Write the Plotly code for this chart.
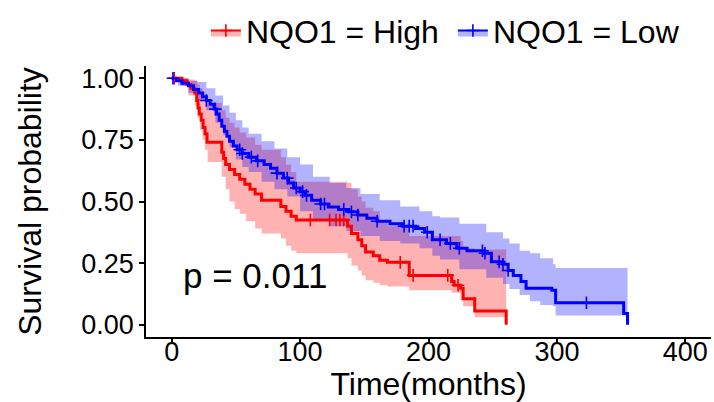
import plotly.graph_objects as go

# ---------------- data ----------------
high_t = [0, 8, 12, 15, 18, 19.5, 20.5, 21.5, 23, 24.5, 26, 27.5, 39, 40.5, 42, 45, 49, 53, 57, 61, 65, 70,
          85, 89, 93, 97, 137, 140, 145, 148, 151, 157, 162, 168, 185, 218, 220, 225, 227, 236, 260.5]
high_s = [1.0, 0.99, 0.975, 0.96, 0.94, 0.91, 0.88, 0.855, 0.83, 0.80, 0.775, 0.74, 0.70, 0.675, 0.65, 0.63,
          0.61, 0.59, 0.57, 0.55, 0.53, 0.505, 0.48, 0.46, 0.44, 0.425, 0.40, 0.37, 0.345, 0.32, 0.295, 0.28,
          0.262, 0.253, 0.20, 0.175, 0.16, 0.148, 0.105, 0.056, 0.0]
high_band_t = [0, 8, 13, 18, 20, 22, 24, 26, 28, 39, 42, 45, 49, 53, 58, 65, 70, 85, 89, 93, 97, 137, 140,
               145, 148, 151, 157, 162, 168, 185, 218, 225, 227, 236]
high_upper = [1.0, 1.0, 0.995, 0.99, 0.975, 0.96, 0.945, 0.93, 0.90, 0.87, 0.84, 0.82, 0.80, 0.78, 0.76,
              0.73, 0.71, 0.68, 0.65, 0.62, 0.58, 0.575, 0.55, 0.52, 0.50, 0.475, 0.46, 0.42, 0.40, 0.36,
              0.36, 0.34, 0.31, 0.305]
high_lower = [1.0, 0.97, 0.93, 0.89, 0.84, 0.79, 0.75, 0.71, 0.66, 0.60, 0.55, 0.50, 0.47, 0.45, 0.42,
              0.39, 0.37, 0.35, 0.32, 0.30, 0.29, 0.27, 0.24, 0.22, 0.20, 0.18, 0.17, 0.16, 0.155, 0.14,
              0.13, 0.10, 0.075, 0.03]
high_end = 260.5
high_cens = [2, 108, 123, 128, 131, 134, 178, 188, 215, 223]

low_t = [0, 3, 8, 13, 17, 21, 24, 27, 30, 33, 35, 37, 39, 41, 43, 45, 48, 51, 55, 60, 66, 72, 77, 82, 87,
         91, 95, 100, 104, 109, 116, 122, 130, 138, 145, 152, 160, 170, 180, 190, 197, 203, 214, 222, 230,
         243, 249, 258, 262, 266, 272, 276, 296, 299, 352, 355]
low_s = [1.0, 0.99, 0.98, 0.97, 0.955, 0.94, 0.925, 0.91, 0.895, 0.875, 0.855, 0.83, 0.805, 0.785, 0.765,
         0.745, 0.725, 0.71, 0.695, 0.68, 0.665, 0.65, 0.635, 0.615, 0.595, 0.575, 0.555, 0.54, 0.525,
         0.505, 0.49, 0.478, 0.468, 0.458, 0.445, 0.432, 0.42, 0.41, 0.40, 0.39, 0.375, 0.345, 0.33, 0.31,
         0.30, 0.29, 0.255, 0.245, 0.22, 0.20, 0.175, 0.148, 0.14, 0.089, 0.045, 0.0]
low_band_t = [0, 5, 13, 20, 27, 34, 40, 45, 50, 55, 60, 70, 80, 90, 100, 110, 123, 136, 147, 162, 178, 193,
              203, 209, 224, 245, 258, 263, 271, 279, 287, 297, 299]
low_upper = [1.0, 1.0, 0.99, 0.985, 0.96, 0.93, 0.89, 0.86, 0.83, 0.80, 0.775, 0.745, 0.715, 0.68, 0.65,
             0.60, 0.575, 0.555, 0.53, 0.505, 0.48, 0.46, 0.44, 0.435, 0.41, 0.375, 0.35, 0.33, 0.30, 0.29,
             0.27, 0.245, 0.23]
low_lower = [1.0, 0.97, 0.94, 0.91, 0.87, 0.82, 0.77, 0.72, 0.67, 0.64, 0.62, 0.58, 0.55, 0.52, 0.46,
             0.42, 0.40, 0.38, 0.36, 0.34, 0.33, 0.31, 0.28, 0.265, 0.225, 0.19, 0.165, 0.145, 0.12, 0.095,
             0.08, 0.075, 0.037]
low_end = 355
low_cens = [1, 27, 34, 53, 55, 62, 67, 82, 90, 97, 102, 105, 116, 119, 134, 140, 145, 160, 181, 185, 188,
            199, 209, 217, 224, 242, 244, 255, 258, 262, 323]

groups = ["NQO1 = High", "NQO1 = Low"]
line_colors = ["#FF0000", "#0000FF"]
band_colors = ["rgba(255,0,0,0.3)", "rgba(0,0,255,0.3)"]
x_ticks = [0, 100, 200, 300, 400]
y_ticks = [0, 0.25, 0.5, 0.75, 1.0]
y_ticklabels = ["0.00", "0.25", "0.50", "0.75", "1.00"]
p_label = "p = 0.011"

FONT = "Liberation Sans, Arial, sans-serif"


def surv_at(ts, ss, t):
    val = ss[0]
    for ti, si in zip(ts, ss):
        if ti <= t:
            val = si
    return val


fig = go.Figure()

series = [
    (high_t, high_s, high_band_t, high_upper, high_lower, high_end, high_cens),
    (low_t, low_s, low_band_t, low_upper, low_lower, low_end, low_cens),
]

# ribbons
for i, (t, s, bt, up, lo, end, cens) in enumerate(series):
    fig.add_trace(go.Scatter(x=bt + [end], y=lo + [lo[-1]], mode="lines", line=dict(width=0, shape="hv"),
                             showlegend=False, hoverinfo="skip"))
    fig.add_trace(go.Scatter(x=bt + [end], y=up + [up[-1]], mode="lines", line=dict(width=0, shape="hv"),
                             fill="tonexty", fillcolor=band_colors[i], showlegend=False, hoverinfo="skip"))

# curves
for i, (t, s, bt, up, lo, end, cens) in enumerate(series):
    fig.add_trace(go.Scatter(x=t, y=s, mode="lines", line=dict(color=line_colors[i], width=3, shape="hv"),
                             showlegend=False))

# censor marks
for i, (t, s, bt, up, lo, end, cens) in enumerate(series):
    fig.add_trace(go.Scatter(x=cens, y=[surv_at(t, s, c) for c in cens], mode="markers",
                             marker=dict(symbol="cross-thin", size=9, line=dict(color=line_colors[i], width=1.6)),
                             showlegend=False))

# legend entries
for i, g in enumerate(groups):
    fig.add_trace(go.Scatter(x=[None], y=[None], mode="lines+markers", name=g,
                             line=dict(color=line_colors[i], width=2),
                             marker=dict(symbol="cross-thin", size=9, line=dict(color=line_colors[i], width=1.6)),
                             fill="toself", fillcolor=band_colors[i]))

fig.add_annotation(x=7.6, y=0.2, xref="x", yref="y", text=p_label, showarrow=False, xanchor="left",
                   yanchor="middle", font=dict(family=FONT, size=35, color="black"))

fig.update_layout(
    width=714, height=402,
    margin=dict(l=146, r=3, t=57, b=65),
    paper_bgcolor="white", plot_bgcolor="white",
    font=dict(family=FONT, color="black"),
    showlegend=True,
    legend=dict(orientation="h", x=0.106, y=1.232, xanchor="left", yanchor="top",
                font=dict(size=32, family=FONT), bgcolor="rgba(0,0,0,0)", itemwidth=30,
                traceorder="normal", entrywidth=202, entrywidthmode="pixels"),
)
fig.update_xaxes(range=[-20, 420], tickvals=x_ticks, ticks="outside", ticklen=5, tickwidth=1.5,
                 tickcolor="black", showline=True, linecolor="black", linewidth=1.5, showgrid=False,
                 zeroline=False, tickfont=dict(size=27, family=FONT, color="black"), ticklabelstandoff=-15,
                 title=dict(text="Time(months)", font=dict(size=32, family=FONT, color="black"), standoff=0),
                 automargin=False)
fig.update_yaxes(range=[-0.05, 1.05], tickvals=y_ticks, ticktext=y_ticklabels, ticks="outside", ticklen=5,
                 tickwidth=1.5, tickcolor="black", showline=True, linecolor="black", linewidth=1.5,
                 showgrid=False, zeroline=False, tickfont=dict(size=27, family=FONT, color="black"),
                 title=dict(text="Survival probability", font=dict(size=32, family=FONT, color="black"),
                            standoff=30),
                 automargin=False)

fig.write_html("out.html")
